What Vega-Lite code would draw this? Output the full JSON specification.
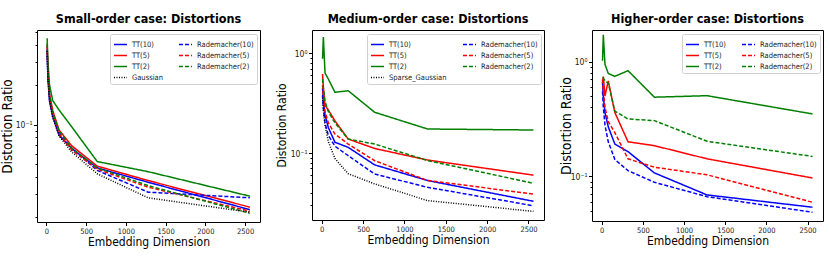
{
  "$schema": "https://vega.github.io/schema/vega-lite/v6.json",
  "padding": {"left": 0, "top": 12, "right": 4, "bottom": 4},
  "spacing": 13,
  "datasets": {
    "d": [
      {"p":1,"s":"TT(10)","x":10,"y":0.35},{"p":1,"s":"TT(10)","x":20,"y":0.22},{"p":1,"s":"TT(10)","x":40,"y":0.15},{"p":1,"s":"TT(10)","x":80,"y":0.115},{"p":1,"s":"TT(10)","x":160,"y":0.083},{"p":1,"s":"TT(10)","x":320,"y":0.066},{"p":1,"s":"TT(10)","x":640,"y":0.047},{"p":1,"s":"TT(10)","x":1280,"y":0.0366},{"p":1,"s":"TT(10)","x":2560,"y":0.0227},
      {"p":1,"s":"TT(5)","x":10,"y":0.385},{"p":1,"s":"TT(5)","x":20,"y":0.25},{"p":1,"s":"TT(5)","x":40,"y":0.17},{"p":1,"s":"TT(5)","x":80,"y":0.128},{"p":1,"s":"TT(5)","x":160,"y":0.091},{"p":1,"s":"TT(5)","x":320,"y":0.069},{"p":1,"s":"TT(5)","x":640,"y":0.0485},{"p":1,"s":"TT(5)","x":1280,"y":0.0377},{"p":1,"s":"TT(5)","x":2560,"y":0.0237},
      {"p":1,"s":"TT(2)","x":10,"y":0.45},{"p":1,"s":"TT(2)","x":20,"y":0.3},{"p":1,"s":"TT(2)","x":40,"y":0.2},{"p":1,"s":"TT(2)","x":80,"y":0.152},{"p":1,"s":"TT(2)","x":160,"y":0.129},{"p":1,"s":"TT(2)","x":320,"y":0.096},{"p":1,"s":"TT(2)","x":640,"y":0.0525},{"p":1,"s":"TT(2)","x":1280,"y":0.044},{"p":1,"s":"TT(2)","x":2560,"y":0.0287},
      {"p":1,"s":"Rademacher(10)","x":10,"y":0.37},{"p":1,"s":"Rademacher(10)","x":20,"y":0.24},{"p":1,"s":"Rademacher(10)","x":40,"y":0.16},{"p":1,"s":"Rademacher(10)","x":80,"y":0.12},{"p":1,"s":"Rademacher(10)","x":160,"y":0.088},{"p":1,"s":"Rademacher(10)","x":320,"y":0.066},{"p":1,"s":"Rademacher(10)","x":640,"y":0.045},{"p":1,"s":"Rademacher(10)","x":1280,"y":0.0308},{"p":1,"s":"Rademacher(10)","x":2560,"y":0.0279},
      {"p":1,"s":"Rademacher(5)","x":10,"y":0.4},{"p":1,"s":"Rademacher(5)","x":20,"y":0.26},{"p":1,"s":"Rademacher(5)","x":40,"y":0.165},{"p":1,"s":"Rademacher(5)","x":80,"y":0.118},{"p":1,"s":"Rademacher(5)","x":160,"y":0.085},{"p":1,"s":"Rademacher(5)","x":320,"y":0.064},{"p":1,"s":"Rademacher(5)","x":640,"y":0.046},{"p":1,"s":"Rademacher(5)","x":1280,"y":0.0336},{"p":1,"s":"Rademacher(5)","x":2560,"y":0.0221},
      {"p":1,"s":"Rademacher(2)","x":10,"y":0.41},{"p":1,"s":"Rademacher(2)","x":20,"y":0.26},{"p":1,"s":"Rademacher(2)","x":40,"y":0.17},{"p":1,"s":"Rademacher(2)","x":80,"y":0.122},{"p":1,"s":"Rademacher(2)","x":160,"y":0.09},{"p":1,"s":"Rademacher(2)","x":320,"y":0.066},{"p":1,"s":"Rademacher(2)","x":640,"y":0.047},{"p":1,"s":"Rademacher(2)","x":1280,"y":0.0345},{"p":1,"s":"Rademacher(2)","x":2560,"y":0.0213},
      {"p":1,"s":"Gaussian","x":10,"y":0.36},{"p":1,"s":"Gaussian","x":20,"y":0.23},{"p":1,"s":"Gaussian","x":40,"y":0.155},{"p":1,"s":"Gaussian","x":80,"y":0.113},{"p":1,"s":"Gaussian","x":160,"y":0.082},{"p":1,"s":"Gaussian","x":320,"y":0.062},{"p":1,"s":"Gaussian","x":640,"y":0.0424},{"p":1,"s":"Gaussian","x":1280,"y":0.0279},{"p":1,"s":"Gaussian","x":2560,"y":0.0217},

      {"p":2,"s":"TT(10)","x":10,"y":0.45},{"p":2,"s":"TT(10)","x":20,"y":0.33},{"p":2,"s":"TT(10)","x":40,"y":0.24},{"p":2,"s":"TT(10)","x":80,"y":0.18},{"p":2,"s":"TT(10)","x":160,"y":0.128},{"p":2,"s":"TT(10)","x":320,"y":0.114},{"p":2,"s":"TT(10)","x":640,"y":0.076},{"p":2,"s":"TT(10)","x":1280,"y":0.053},{"p":2,"s":"TT(10)","x":2560,"y":0.0328},
      {"p":2,"s":"TT(5)","x":10,"y":0.62},{"p":2,"s":"TT(5)","x":20,"y":0.45},{"p":2,"s":"TT(5)","x":40,"y":0.3},{"p":2,"s":"TT(5)","x":80,"y":0.27},{"p":2,"s":"TT(5)","x":160,"y":0.21},{"p":2,"s":"TT(5)","x":320,"y":0.138},{"p":2,"s":"TT(5)","x":640,"y":0.111},{"p":2,"s":"TT(5)","x":1280,"y":0.085},{"p":2,"s":"TT(5)","x":2560,"y":0.06},
      {"p":2,"s":"TT(2)","x":10,"y":0.88},{"p":2,"s":"TT(2)","x":20,"y":1.45},{"p":2,"s":"TT(2)","x":40,"y":0.634},{"p":2,"s":"TT(2)","x":80,"y":0.552},{"p":2,"s":"TT(2)","x":160,"y":0.406},{"p":2,"s":"TT(2)","x":320,"y":0.421},{"p":2,"s":"TT(2)","x":640,"y":0.256},{"p":2,"s":"TT(2)","x":1280,"y":0.174},{"p":2,"s":"TT(2)","x":2560,"y":0.17},
      {"p":2,"s":"Rademacher(10)","x":10,"y":0.38},{"p":2,"s":"Rademacher(10)","x":20,"y":0.28},{"p":2,"s":"Rademacher(10)","x":40,"y":0.2},{"p":2,"s":"Rademacher(10)","x":80,"y":0.15},{"p":2,"s":"Rademacher(10)","x":160,"y":0.117},{"p":2,"s":"Rademacher(10)","x":320,"y":0.094},{"p":2,"s":"Rademacher(10)","x":640,"y":0.0615},{"p":2,"s":"Rademacher(10)","x":1280,"y":0.0453},{"p":2,"s":"Rademacher(10)","x":2560,"y":0.0296},
      {"p":2,"s":"Rademacher(5)","x":10,"y":0.48},{"p":2,"s":"Rademacher(5)","x":20,"y":0.36},{"p":2,"s":"Rademacher(5)","x":40,"y":0.26},{"p":2,"s":"Rademacher(5)","x":80,"y":0.2},{"p":2,"s":"Rademacher(5)","x":160,"y":0.155},{"p":2,"s":"Rademacher(5)","x":320,"y":0.123},{"p":2,"s":"Rademacher(5)","x":640,"y":0.0837},{"p":2,"s":"Rademacher(5)","x":1280,"y":0.053},{"p":2,"s":"Rademacher(5)","x":2560,"y":0.0388},
      {"p":2,"s":"Rademacher(2)","x":10,"y":0.55},{"p":2,"s":"Rademacher(2)","x":20,"y":0.45},{"p":2,"s":"Rademacher(2)","x":40,"y":0.33},{"p":2,"s":"Rademacher(2)","x":80,"y":0.26},{"p":2,"s":"Rademacher(2)","x":160,"y":0.2},{"p":2,"s":"Rademacher(2)","x":320,"y":0.138},{"p":2,"s":"Rademacher(2)","x":640,"y":0.123},{"p":2,"s":"Rademacher(2)","x":1280,"y":0.084},{"p":2,"s":"Rademacher(2)","x":2560,"y":0.0497},
      {"p":2,"s":"Sparse_Gaussian","x":10,"y":0.36},{"p":2,"s":"Sparse_Gaussian","x":20,"y":0.27},{"p":2,"s":"Sparse_Gaussian","x":40,"y":0.19},{"p":2,"s":"Sparse_Gaussian","x":80,"y":0.13},{"p":2,"s":"Sparse_Gaussian","x":160,"y":0.088},{"p":2,"s":"Sparse_Gaussian","x":320,"y":0.062},{"p":2,"s":"Sparse_Gaussian","x":640,"y":0.049},{"p":2,"s":"Sparse_Gaussian","x":1280,"y":0.0333},{"p":2,"s":"Sparse_Gaussian","x":2560,"y":0.026},

      {"p":3,"s":"TT(10)","x":10,"y":0.66},{"p":3,"s":"TT(10)","x":20,"y":0.5},{"p":3,"s":"TT(10)","x":40,"y":0.36},{"p":3,"s":"TT(10)","x":80,"y":0.27},{"p":3,"s":"TT(10)","x":160,"y":0.191},{"p":3,"s":"TT(10)","x":320,"y":0.164},{"p":3,"s":"TT(10)","x":640,"y":0.107},{"p":3,"s":"TT(10)","x":1280,"y":0.0687},{"p":3,"s":"TT(10)","x":2560,"y":0.0537},
      {"p":3,"s":"TT(5)","x":10,"y":0.65},{"p":3,"s":"TT(5)","x":20,"y":0.74},{"p":3,"s":"TT(5)","x":40,"y":0.5},{"p":3,"s":"TT(5)","x":80,"y":0.68},{"p":3,"s":"TT(5)","x":160,"y":0.36},{"p":3,"s":"TT(5)","x":320,"y":0.2},{"p":3,"s":"TT(5)","x":640,"y":0.185},{"p":3,"s":"TT(5)","x":1280,"y":0.142},{"p":3,"s":"TT(5)","x":2560,"y":0.0966},
      {"p":3,"s":"TT(2)","x":10,"y":1.02},{"p":3,"s":"TT(2)","x":20,"y":1.72},{"p":3,"s":"TT(2)","x":40,"y":0.95},{"p":3,"s":"TT(2)","x":80,"y":0.79},{"p":3,"s":"TT(2)","x":160,"y":0.745},{"p":3,"s":"TT(2)","x":320,"y":0.835},{"p":3,"s":"TT(2)","x":640,"y":0.49},{"p":3,"s":"TT(2)","x":1280,"y":0.505},{"p":3,"s":"TT(2)","x":2560,"y":0.35},
      {"p":3,"s":"Rademacher(10)","x":10,"y":0.55},{"p":3,"s":"Rademacher(10)","x":20,"y":0.4},{"p":3,"s":"Rademacher(10)","x":40,"y":0.28},{"p":3,"s":"Rademacher(10)","x":80,"y":0.2},{"p":3,"s":"Rademacher(10)","x":160,"y":0.14},{"p":3,"s":"Rademacher(10)","x":320,"y":0.112},{"p":3,"s":"Rademacher(10)","x":640,"y":0.0886},{"p":3,"s":"Rademacher(10)","x":1280,"y":0.0664},{"p":3,"s":"Rademacher(10)","x":2560,"y":0.0485},
      {"p":3,"s":"Rademacher(5)","x":10,"y":0.7},{"p":3,"s":"Rademacher(5)","x":20,"y":0.55},{"p":3,"s":"Rademacher(5)","x":40,"y":0.4},{"p":3,"s":"Rademacher(5)","x":80,"y":0.3},{"p":3,"s":"Rademacher(5)","x":160,"y":0.24},{"p":3,"s":"Rademacher(5)","x":320,"y":0.142},{"p":3,"s":"Rademacher(5)","x":640,"y":0.12},{"p":3,"s":"Rademacher(5)","x":1280,"y":0.103},{"p":3,"s":"Rademacher(5)","x":2560,"y":0.0593},
      {"p":3,"s":"Rademacher(2)","x":10,"y":0.73},{"p":3,"s":"Rademacher(2)","x":20,"y":0.72},{"p":3,"s":"Rademacher(2)","x":40,"y":0.68},{"p":3,"s":"Rademacher(2)","x":80,"y":0.65},{"p":3,"s":"Rademacher(2)","x":160,"y":0.37},{"p":3,"s":"Rademacher(2)","x":320,"y":0.316},{"p":3,"s":"Rademacher(2)","x":640,"y":0.306},{"p":3,"s":"Rademacher(2)","x":1280,"y":0.202},{"p":3,"s":"Rademacher(2)","x":2560,"y":0.149}
    ]
  },
  "config": {
    "font": "DejaVu Sans Condensed",
    "view": {"stroke": "black", "strokeWidth": 1},
    "axis": {"grid": false, "domain": false, "tickColor": "black", "labelColor": "#222", "labelFontSize": 7.5, "labelFont": "DejaVu Sans Condensed", "titleFont": "DejaVu Sans Condensed", "titleFontWeight": "normal", "titleColor": "black", "labelPadding": 1.5},
    "title": {"fontSize": 12.5, "fontWeight": "bold", "font": "DejaVu Sans Condensed", "offset": 5, "color": "black"},
    "legend": {"orient": "top-right", "direction": "vertical", "offset": 3.5, "columns": 2, "gridAlign": "none", "symbolType": "stroke", "symbolSize": 170, "symbolStrokeWidth": 1.6, "labelFontSize": 7.5, "labelFont": "DejaVu Sans Condensed", "labelColor": "#222", "rowPadding": 0, "columnPadding": 12, "padding": 3, "strokeColor": "#d0d0d0", "fillColor": "white", "cornerRadius": 2, "labelOffset": 4, "labelLimit": 200},
    "line": {"strokeWidth": 1.5}
  },
  "resolve": {"scale": {"x": "independent", "y": "independent", "color": "independent", "strokeDash": "independent"}, "legend": {"color": "independent", "strokeDash": "independent"}},
  "hconcat": [
    {
      "title": "Small-order case: Distortions",
      "width": 223, "height": 192,
      "data": {"name": "d"},
      "transform": [{"filter": "datum.p == 1"}],
      "mark": {"type": "line", "clip": true},
      "encoding": {
        "x": {"field": "x", "type": "quantitative", "scale": {"domain": [-117.5, 2687.5], "nice": false, "zero": false}, "axis": {"title": "Embedding Dimension", "values": [0, 500, 1000, 1500, 2000, 2500], "format": "d", "tickSize": 3.5, "titleFontSize": 12, "titlePadding": 2}},
        "y": {"field": "y", "type": "quantitative", "scale": {"type": "log", "domain": [0.0183, 0.52], "nice": false, "zero": false}, "axis": {"title": "Distortion Ratio", "titleFontSize": 13.5, "titlePadding": 2.5, "labelFontSize": 8.5, "minExtent": 20, "maxExtent": 20, "values": [0.02, 0.03, 0.04, 0.05, 0.06, 0.07, 0.08, 0.09, 0.1, 0.2, 0.3, 0.4, 0.5], "labelExpr": "datum.value == 0.1 ? '10⁻¹' : ''", "tickSize": {"condition": {"test": "datum.value == 0.1", "value": 3.5}, "value": 2}}},
        "color": {"field": "s", "type": "nominal", "scale": {"domain": ["TT(10)", "TT(5)", "TT(2)", "Gaussian", "Rademacher(10)", "Rademacher(5)", "Rademacher(2)"], "range": ["#0000ff", "#ff0000", "#008000", "#000000", "#0000ff", "#ff0000", "#008000"]}, "legend": {"title": null}},
        "strokeDash": {"field": "s", "type": "nominal", "scale": {"domain": ["TT(10)", "TT(5)", "TT(2)", "Gaussian", "Rademacher(10)", "Rademacher(5)", "Rademacher(2)"], "range": [[1, 0], [1, 0], [1, 0], [1, 1.5], [4, 2], [4, 2], [4, 2]]}, "legend": {"title": null}}
      }
    },
    {
      "title": "Medium-order case: Distortions",
      "width": 232, "height": 190,
      "data": {"name": "d"},
      "transform": [{"filter": "datum.p == 2"}],
      "mark": {"type": "line", "clip": true},
      "encoding": {
        "x": {"field": "x", "type": "quantitative", "scale": {"domain": [-117.5, 2687.5], "nice": false, "zero": false}, "axis": {"title": "Embedding Dimension", "values": [0, 500, 1000, 1500, 2000, 2500], "format": "d", "tickSize": 3.5, "titleFontSize": 12, "titlePadding": 2}},
        "y": {"field": "y", "type": "quantitative", "scale": {"type": "log", "domain": [0.0213, 1.71], "nice": false, "zero": false}, "axis": {"title": "Distortion Ratio", "titleFontSize": 12, "titlePadding": 3, "labelFontSize": 8.5, "minExtent": 21, "maxExtent": 21, "values": [0.03, 0.04, 0.05, 0.06, 0.07, 0.08, 0.09, 0.1, 0.2, 0.3, 0.4, 0.5, 0.6, 0.7, 0.8, 0.9, 1], "labelExpr": "datum.value == 0.1 ? '10⁻¹' : datum.value == 1 ? '10⁰' : ''", "tickSize": {"condition": {"test": "datum.value == 0.1 || datum.value == 1", "value": 3.5}, "value": 2}}},
        "color": {"field": "s", "type": "nominal", "scale": {"domain": ["TT(10)", "TT(5)", "TT(2)", "Sparse_Gaussian", "Rademacher(10)", "Rademacher(5)", "Rademacher(2)"], "range": ["#0000ff", "#ff0000", "#008000", "#000000", "#0000ff", "#ff0000", "#008000"]}, "legend": {"title": null}},
        "strokeDash": {"field": "s", "type": "nominal", "scale": {"domain": ["TT(10)", "TT(5)", "TT(2)", "Sparse_Gaussian", "Rademacher(10)", "Rademacher(5)", "Rademacher(2)"], "range": [[1, 0], [1, 0], [1, 0], [1, 1.5], [4, 2], [4, 2], [4, 2]]}, "legend": {"title": null}}
      }
    },
    {
      "title": "Higher-order case: Distortions",
      "width": 231, "height": 191,
      "data": {"name": "d"},
      "transform": [{"filter": "datum.p == 3"}],
      "mark": {"type": "line", "clip": true},
      "encoding": {
        "x": {"field": "x", "type": "quantitative", "scale": {"domain": [-117.5, 2687.5], "nice": false, "zero": false}, "axis": {"title": "Embedding Dimension", "values": [0, 500, 1000, 1500, 2000, 2500], "format": "d", "tickSize": 3.5, "titleFontSize": 12, "titlePadding": 2}},
        "y": {"field": "y", "type": "quantitative", "scale": {"type": "log", "domain": [0.0407, 1.891], "nice": false, "zero": false}, "axis": {"title": "Distortion Ratio", "titleFontSize": 14, "titlePadding": 0, "labelFontSize": 8.5, "minExtent": 19, "maxExtent": 19, "values": [0.05, 0.06, 0.07, 0.08, 0.09, 0.1, 0.2, 0.3, 0.4, 0.5, 0.6, 0.7, 0.8, 0.9, 1], "labelExpr": "datum.value == 0.1 ? '10⁻¹' : datum.value == 1 ? '10⁰' : ''", "tickSize": {"condition": {"test": "datum.value == 0.1 || datum.value == 1", "value": 3.5}, "value": 2}}},
        "color": {"field": "s", "type": "nominal", "scale": {"domain": ["TT(10)", "TT(5)", "TT(2)", "Rademacher(10)", "Rademacher(5)", "Rademacher(2)"], "range": ["#0000ff", "#ff0000", "#008000", "#0000ff", "#ff0000", "#008000"]}, "legend": {"title": null}},
        "strokeDash": {"field": "s", "type": "nominal", "scale": {"domain": ["TT(10)", "TT(5)", "TT(2)", "Rademacher(10)", "Rademacher(5)", "Rademacher(2)"], "range": [[1, 0], [1, 0], [1, 0], [4, 2], [4, 2], [4, 2]]}, "legend": {"title": null}}
      }
    }
  ]
}
